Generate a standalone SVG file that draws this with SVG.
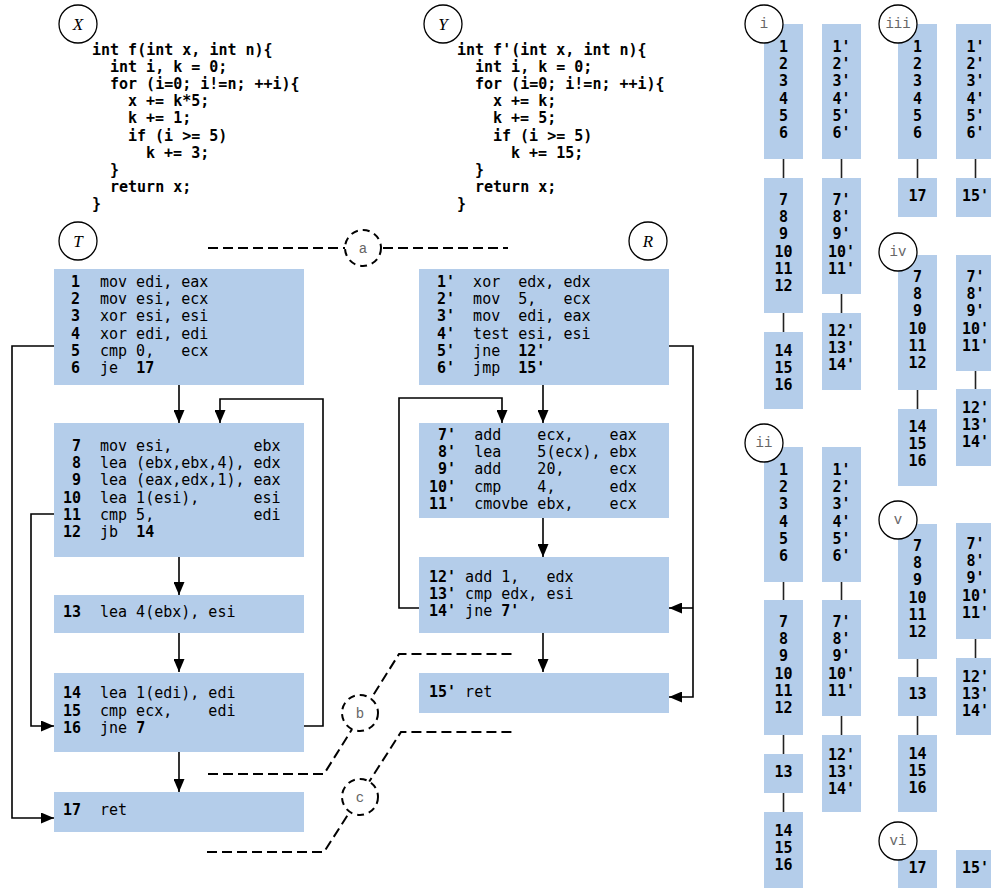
<svg xmlns="http://www.w3.org/2000/svg" width="991" height="888" viewBox="0 0 991 888">
<style>
  .bg { fill: #ffffff; }
  .blk { fill: #b4cdea; }
  .code { font-family: "DejaVu Sans Mono", "Liberation Mono", monospace; font-size: 15px; font-weight: bold; fill: #000; }
  .asm { font-family: "DejaVu Sans Mono", "Liberation Mono", monospace; font-size: 15px; fill: #000; white-space: pre; }
  .b { font-weight: bold; }
  .num { font-family: "DejaVu Sans Mono", "Liberation Mono", monospace; font-size: 15px; font-weight: bold; fill: #000; text-anchor: middle; }
  .tag { fill: #fff; stroke: #000; stroke-width: 1.3; }
  .tagd { fill: #fff; stroke: #000; stroke-width: 2; stroke-dasharray: 7,5; }
  .big { font-family: "Liberation Serif", "DejaVu Serif", serif; font-style: italic; font-size: 17px; fill: #000; text-anchor: middle; }
  .small { font-family: "Liberation Mono", "DejaVu Sans Mono", monospace; font-size: 14px; fill: #666; text-anchor: middle; }
  .edge { fill: none; stroke: #000; stroke-width: 1.6; }
  .dash { fill: none; stroke: #000; stroke-width: 2; stroke-dasharray: 10,5; }
  .link { stroke: #222; stroke-width: 1.6; }
</style>
<defs>
  <marker id="ah" viewBox="0 0 13 11" refX="13" refY="5.5" markerWidth="13" markerHeight="11" markerUnits="userSpaceOnUse" orient="auto">
    <path d="M0,0 L13,5.5 L0,11 z" fill="#000"/>
  </marker>
</defs>
<rect class="bg" x="0" y="0" width="991" height="888"/>

<!-- source of f -->
<g id="srcX">
  <circle class="tag" cx="78" cy="24" r="19"/>
  <text class="big" x="78" cy="24" y="30">X</text>
  <text class="code">
    <tspan x="92" y="55">int f(int x, int n){</tspan>
    <tspan x="110" y="72.1">int i, k = 0;</tspan>
    <tspan x="110" y="89.2">for (i=0; i!=n; ++i){</tspan>
    <tspan x="128" y="106.3">x += k*5;</tspan>
    <tspan x="128" y="123.4">k += 1;</tspan>
    <tspan x="128" y="140.5">if (i &gt;= 5)</tspan>
    <tspan x="146" y="157.6">k += 3;</tspan>
    <tspan x="110" y="174.7">}</tspan>
    <tspan x="110" y="191.8">return x;</tspan>
    <tspan x="92" y="208.9">}</tspan>
  </text>
</g>

<!-- source of f' -->
<g id="srcY">
  <circle class="tag" cx="443" cy="24" r="19"/>
  <text class="big" x="443" y="30">Y</text>
  <text class="code">
    <tspan x="457" y="55">int f'(int x, int n){</tspan>
    <tspan x="475" y="72.1">int i, k = 0;</tspan>
    <tspan x="475" y="89.2">for (i=0; i!=n; ++i){</tspan>
    <tspan x="493" y="106.3">x += k;</tspan>
    <tspan x="493" y="123.4">k += 5;</tspan>
    <tspan x="493" y="140.5">if (i &gt;= 5)</tspan>
    <tspan x="511" y="157.6">k += 15;</tspan>
    <tspan x="475" y="174.7">}</tspan>
    <tspan x="475" y="191.8">return x;</tspan>
    <tspan x="457" y="208.9">}</tspan>
  </text>
</g>

<g id="labelT">
  <circle class="tag" cx="78" cy="241" r="19"/>
  <text class="big" x="78" y="247">T</text>
</g>
<g id="labelR">
  <circle class="tag" cx="648" cy="241" r="19"/>
  <text class="big" x="648" y="247">R</text>
</g>

<!-- control-flow edges -->
<g id="connectors">
  <path class="edge" d="M179,385 V423" marker-end="url(#ah)"/>
  <path class="edge" d="M304,726 H323 V399 H220 V423" marker-end="url(#ah)"/>
  <path class="edge" d="M54,346 H12 V818 H54" marker-end="url(#ah)"/>
  <path class="edge" d="M54,514 H31 V726 H54" marker-end="url(#ah)"/>
  <path class="edge" d="M179,557 V595" marker-end="url(#ah)"/>
  <path class="edge" d="M179,633 V672" marker-end="url(#ah)"/>
  <path class="edge" d="M179,752 V792" marker-end="url(#ah)"/>

  <path class="edge" d="M543,385 V423" marker-end="url(#ah)"/>
  <path class="edge" d="M419,608 H399 V398 H502 V423" marker-end="url(#ah)"/>
  <path class="edge" d="M669,346 H693 V697 H669" marker-end="url(#ah)"/>
  <path class="edge" d="M693,608 H669" marker-end="url(#ah)"/>
  <path class="edge" d="M543,518 V557" marker-end="url(#ah)"/>
  <path class="edge" d="M543,633 V672" marker-end="url(#ah)"/>
</g>

<!-- f blocks -->
<g id="T1">
  <rect class="blk" x="54" y="269" width="250" height="116"/>
  <text class="asm" xml:space="preserve"><tspan class="b" x="80" y="287" text-anchor="end">1</tspan><tspan x="100" y="287">mov edi, eax</tspan><tspan class="b" x="80" y="304.2" text-anchor="end">2</tspan><tspan x="100" y="304.2">mov esi, ecx</tspan><tspan class="b" x="80" y="321.4" text-anchor="end">3</tspan><tspan x="100" y="321.4">xor esi, esi</tspan><tspan class="b" x="80" y="338.6" text-anchor="end">4</tspan><tspan x="100" y="338.6">xor edi, edi</tspan><tspan class="b" x="80" y="355.8" text-anchor="end">5</tspan><tspan x="100" y="355.8">cmp 0,   ecx</tspan><tspan class="b" x="80" y="373" text-anchor="end">6</tspan><tspan x="100" y="373">je  </tspan><tspan class="b">17</tspan></text>
</g>
<g id="T2">
  <rect class="blk" x="54" y="423" width="250" height="134"/>
  <text class="asm" xml:space="preserve"><tspan class="b" x="81" y="451" text-anchor="end">7</tspan><tspan x="100" y="451">mov esi,         ebx</tspan><tspan class="b" x="81" y="468.2" text-anchor="end">8</tspan><tspan x="100" y="468.2">lea (ebx,ebx,4), edx</tspan><tspan class="b" x="81" y="485.4" text-anchor="end">9</tspan><tspan x="100" y="485.4">lea (eax,edx,1), eax</tspan><tspan class="b" x="81" y="502.6" text-anchor="end">10</tspan><tspan x="100" y="502.6">lea 1(esi),      esi</tspan><tspan class="b" x="81" y="519.8" text-anchor="end">11</tspan><tspan x="100" y="519.8">cmp 5,           edi</tspan><tspan class="b" x="81" y="537" text-anchor="end">12</tspan><tspan x="100" y="537">jb  </tspan><tspan class="b">14</tspan></text>
</g>
<g id="T3">
  <rect class="blk" x="54" y="595" width="250" height="38"/>
  <text class="asm" xml:space="preserve"><tspan class="b" x="81" y="617" text-anchor="end">13</tspan><tspan x="100" y="617">lea 4(ebx), esi</tspan></text>
</g>
<g id="T4">
  <rect class="blk" x="54" y="673" width="250" height="79"/>
  <text class="asm" xml:space="preserve"><tspan class="b" x="81" y="698" text-anchor="end">14</tspan><tspan x="100" y="698">lea 1(edi), edi</tspan><tspan class="b" x="81" y="715.5" text-anchor="end">15</tspan><tspan x="100" y="715.5">cmp ecx,    edi</tspan><tspan class="b" x="81" y="733" text-anchor="end">16</tspan><tspan x="100" y="733">jne </tspan><tspan class="b">7</tspan></text>
</g>
<g id="T5">
  <rect class="blk" x="54" y="792" width="250" height="40"/>
  <text class="asm" xml:space="preserve"><tspan class="b" x="81" y="815" text-anchor="end">17</tspan><tspan x="100" y="815">ret</tspan></text>
</g>

<!-- f' blocks -->
<g id="R1">
  <rect class="blk" x="419" y="269" width="250" height="116"/>
  <text class="asm" xml:space="preserve"><tspan class="b" x="437" y="287">1'</tspan><tspan>  xor  edx, edx</tspan><tspan class="b" x="437" y="304.2">2'</tspan><tspan>  mov  5,   ecx</tspan><tspan class="b" x="437" y="321.4">3'</tspan><tspan>  mov  edi, eax</tspan><tspan class="b" x="437" y="338.6">4'</tspan><tspan>  test esi, esi</tspan><tspan class="b" x="437" y="355.8">5'</tspan><tspan>  jne  </tspan><tspan class="b">12'</tspan><tspan class="b" x="437" y="373">6'</tspan><tspan>  jmp  </tspan><tspan class="b">15'</tspan></text>
</g>
<g id="R2">
  <rect class="blk" x="419" y="423" width="250" height="95"/>
  <text class="asm" xml:space="preserve"><tspan class="b" x="429" y="440"> 7'</tspan><tspan>  add    ecx,    eax</tspan><tspan class="b" x="429" y="457.2"> 8'</tspan><tspan>  lea    5(ecx), ebx</tspan><tspan class="b" x="429" y="474.4"> 9'</tspan><tspan>  add    20,     ecx</tspan><tspan class="b" x="429" y="491.6">10'</tspan><tspan>  cmp    4,      edx</tspan><tspan class="b" x="429" y="508.8">11'</tspan><tspan>  cmovbe ebx,    ecx</tspan></text>
</g>
<g id="R3">
  <rect class="blk" x="419" y="557" width="250" height="76"/>
  <text class="asm" xml:space="preserve"><tspan class="b" x="429" y="582">12'</tspan><tspan> add 1,   edx</tspan><tspan class="b" x="429" y="599.2">13'</tspan><tspan> cmp edx, esi</tspan><tspan class="b" x="429" y="616.4">14'</tspan><tspan> jne </tspan><tspan class="b">7'</tspan></text>
</g>
<g id="R4">
  <rect class="blk" x="419" y="673" width="250" height="40"/>
  <text class="asm" xml:space="preserve"><tspan class="b" x="429" y="697">15'</tspan><tspan> ret</tspan></text>
</g>

<!-- matching regions a, b, c -->
<g id="sepA">
  <path class="dash" d="M208,248 H345 M383,248 H508"/>
  <circle class="tagd" cx="363" cy="248" r="18"/>
  <text class="small" x="363" y="253">a</text>
</g>
<g id="sepB">
  <path class="dash" d="M208,774 H324 L399,654 H515"/>
  <circle class="tagd" cx="360" cy="713" r="18"/>
  <text class="small" x="360" y="718">b</text>
</g>
<g id="sepC">
  <path class="dash" d="M207,852 H324 L401,732 H515"/>
  <circle class="tagd" cx="360" cy="797" r="18"/>
  <text class="small" x="360" y="802">c</text>
</g>

<!-- block-pairing columns -->
<g id="colI">
  <line class="link" x1="783.5" y1="159" x2="783.5" y2="178"/>
  <line class="link" x1="783.5" y1="313" x2="783.5" y2="332"/>
  <line class="link" x1="841.5" y1="159" x2="841.5" y2="178"/>
  <line class="link" x1="841.5" y1="294" x2="841.5" y2="313"/>
  <rect class="blk" x="764" y="24" width="39" height="135"/>
  <rect class="blk" x="764" y="178" width="39" height="135"/>
  <rect class="blk" x="764" y="332" width="39" height="77"/>
  <rect class="blk" x="822" y="24" width="39" height="135"/>
  <rect class="blk" x="822" y="178" width="39" height="116"/>
  <rect class="blk" x="822" y="313" width="39" height="77"/>
  <text class="num"><tspan x="783.5" y="52">1</tspan><tspan x="783.5" dy="17.2">2</tspan><tspan x="783.5" dy="17.2">3</tspan><tspan x="783.5" dy="17.2">4</tspan><tspan x="783.5" dy="17.2">5</tspan><tspan x="783.5" dy="17.2">6</tspan></text>
  <text class="num"><tspan x="783.5" y="205">7</tspan><tspan x="783.5" dy="17.2">8</tspan><tspan x="783.5" dy="17.2">9</tspan><tspan x="783.5" dy="17.2">10</tspan><tspan x="783.5" dy="17.2">11</tspan><tspan x="783.5" dy="17.2">12</tspan></text>
  <text class="num"><tspan x="783.5" y="356">14</tspan><tspan x="783.5" dy="17.2">15</tspan><tspan x="783.5" dy="17.2">16</tspan></text>
  <text class="num"><tspan x="841.5" y="52">1'</tspan><tspan x="841.5" dy="17.2">2'</tspan><tspan x="841.5" dy="17.2">3'</tspan><tspan x="841.5" dy="17.2">4'</tspan><tspan x="841.5" dy="17.2">5'</tspan><tspan x="841.5" dy="17.2">6'</tspan></text>
  <text class="num"><tspan x="841.5" y="205">7'</tspan><tspan x="841.5" dy="17.2">8'</tspan><tspan x="841.5" dy="17.2">9'</tspan><tspan x="841.5" dy="17.2">10'</tspan><tspan x="841.5" dy="17.2">11'</tspan></text>
  <text class="num"><tspan x="841.5" y="336">12'</tspan><tspan x="841.5" dy="17.2">13'</tspan><tspan x="841.5" dy="17.2">14'</tspan></text>
  <circle class="tag" cx="764" cy="24" r="19"/>
  <text class="small" x="764" y="28">i</text>
</g>

<g id="colII">
  <line class="link" x1="783.5" y1="582" x2="783.5" y2="600"/>
  <line class="link" x1="783.5" y1="735" x2="783.5" y2="754"/>
  <line class="link" x1="783.5" y1="793" x2="783.5" y2="812"/>
  <line class="link" x1="841.5" y1="582" x2="841.5" y2="600"/>
  <line class="link" x1="841.5" y1="716" x2="841.5" y2="735"/>
  <rect class="blk" x="764" y="447" width="39" height="135"/>
  <rect class="blk" x="764" y="600" width="39" height="135"/>
  <rect class="blk" x="764" y="754" width="39" height="39"/>
  <rect class="blk" x="764" y="812" width="39" height="77"/>
  <rect class="blk" x="822" y="447" width="39" height="135"/>
  <rect class="blk" x="822" y="600" width="39" height="116"/>
  <rect class="blk" x="822" y="735" width="39" height="77"/>
  <text class="num"><tspan x="783.5" y="475">1</tspan><tspan x="783.5" dy="17.2">2</tspan><tspan x="783.5" dy="17.2">3</tspan><tspan x="783.5" dy="17.2">4</tspan><tspan x="783.5" dy="17.2">5</tspan><tspan x="783.5" dy="17.2">6</tspan></text>
  <text class="num"><tspan x="783.5" y="627">7</tspan><tspan x="783.5" dy="17.2">8</tspan><tspan x="783.5" dy="17.2">9</tspan><tspan x="783.5" dy="17.2">10</tspan><tspan x="783.5" dy="17.2">11</tspan><tspan x="783.5" dy="17.2">12</tspan></text>
  <text class="num" x="783.5" y="777">13</text>
  <text class="num"><tspan x="783.5" y="836">14</tspan><tspan x="783.5" dy="17.2">15</tspan><tspan x="783.5" dy="17.2">16</tspan></text>
  <text class="num"><tspan x="841.5" y="475">1'</tspan><tspan x="841.5" dy="17.2">2'</tspan><tspan x="841.5" dy="17.2">3'</tspan><tspan x="841.5" dy="17.2">4'</tspan><tspan x="841.5" dy="17.2">5'</tspan><tspan x="841.5" dy="17.2">6'</tspan></text>
  <text class="num"><tspan x="841.5" y="627">7'</tspan><tspan x="841.5" dy="17.2">8'</tspan><tspan x="841.5" dy="17.2">9'</tspan><tspan x="841.5" dy="17.2">10'</tspan><tspan x="841.5" dy="17.2">11'</tspan></text>
  <text class="num"><tspan x="841.5" y="760">12'</tspan><tspan x="841.5" dy="17.2">13'</tspan><tspan x="841.5" dy="17.2">14'</tspan></text>
  <circle class="tag" cx="764" cy="443" r="19"/>
  <text class="small" x="764" y="447">ii</text>
</g>

<g id="colIII">
  <line class="link" x1="917.5" y1="159" x2="917.5" y2="178"/>
  <line class="link" x1="975.5" y1="159" x2="975.5" y2="178"/>
  <rect class="blk" x="898" y="24" width="39" height="135"/>
  <rect class="blk" x="898" y="178" width="39" height="39"/>
  <rect class="blk" x="956" y="24" width="39" height="135"/>
  <rect class="blk" x="956" y="178" width="39" height="39"/>
  <text class="num"><tspan x="917.5" y="52">1</tspan><tspan x="917.5" dy="17.2">2</tspan><tspan x="917.5" dy="17.2">3</tspan><tspan x="917.5" dy="17.2">4</tspan><tspan x="917.5" dy="17.2">5</tspan><tspan x="917.5" dy="17.2">6</tspan></text>
  <text class="num" x="917.5" y="201">17</text>
  <text class="num"><tspan x="975.5" y="52">1'</tspan><tspan x="975.5" dy="17.2">2'</tspan><tspan x="975.5" dy="17.2">3'</tspan><tspan x="975.5" dy="17.2">4'</tspan><tspan x="975.5" dy="17.2">5'</tspan><tspan x="975.5" dy="17.2">6'</tspan></text>
  <text class="num" x="975.5" y="201">15'</text>
  <circle class="tag" cx="898" cy="24" r="19"/>
  <text class="small" x="898" y="28">iii</text>
</g>

<g id="colIV">
  <line class="link" x1="917.5" y1="390" x2="917.5" y2="409"/>
  <line class="link" x1="975.5" y1="371" x2="975.5" y2="389"/>
  <rect class="blk" x="898" y="255" width="39" height="135"/>
  <rect class="blk" x="898" y="409" width="39" height="77"/>
  <rect class="blk" x="956" y="255" width="39" height="116"/>
  <rect class="blk" x="956" y="389" width="39" height="77"/>
  <text class="num"><tspan x="917.5" y="282">7</tspan><tspan x="917.5" dy="17.2">8</tspan><tspan x="917.5" dy="17.2">9</tspan><tspan x="917.5" dy="17.2">10</tspan><tspan x="917.5" dy="17.2">11</tspan><tspan x="917.5" dy="17.2">12</tspan></text>
  <text class="num"><tspan x="917.5" y="432">14</tspan><tspan x="917.5" dy="17.2">15</tspan><tspan x="917.5" dy="17.2">16</tspan></text>
  <text class="num"><tspan x="975.5" y="282">7'</tspan><tspan x="975.5" dy="17.2">8'</tspan><tspan x="975.5" dy="17.2">9'</tspan><tspan x="975.5" dy="17.2">10'</tspan><tspan x="975.5" dy="17.2">11'</tspan></text>
  <text class="num"><tspan x="975.5" y="413">12'</tspan><tspan x="975.5" dy="17.2">13'</tspan><tspan x="975.5" dy="17.2">14'</tspan></text>
  <circle class="tag" cx="898" cy="252" r="19"/>
  <text class="small" x="898" y="256">iv</text>
</g>

<g id="colV">
  <line class="link" x1="917.5" y1="659" x2="917.5" y2="677"/>
  <line class="link" x1="917.5" y1="716" x2="917.5" y2="735"/>
  <line class="link" x1="975.5" y1="639" x2="975.5" y2="658"/>
  <rect class="blk" x="898" y="524" width="39" height="135"/>
  <rect class="blk" x="898" y="677" width="39" height="39"/>
  <rect class="blk" x="898" y="735" width="39" height="77"/>
  <rect class="blk" x="956" y="523" width="39" height="116"/>
  <rect class="blk" x="956" y="658" width="39" height="77"/>
  <text class="num"><tspan x="917.5" y="551">7</tspan><tspan x="917.5" dy="17.2">8</tspan><tspan x="917.5" dy="17.2">9</tspan><tspan x="917.5" dy="17.2">10</tspan><tspan x="917.5" dy="17.2">11</tspan><tspan x="917.5" dy="17.2">12</tspan></text>
  <text class="num" x="917.5" y="699">13</text>
  <text class="num"><tspan x="917.5" y="759">14</tspan><tspan x="917.5" dy="17.2">15</tspan><tspan x="917.5" dy="17.2">16</tspan></text>
  <text class="num"><tspan x="975.5" y="549">7'</tspan><tspan x="975.5" dy="17.2">8'</tspan><tspan x="975.5" dy="17.2">9'</tspan><tspan x="975.5" dy="17.2">10'</tspan><tspan x="975.5" dy="17.2">11'</tspan></text>
  <text class="num"><tspan x="975.5" y="682">12'</tspan><tspan x="975.5" dy="17.2">13'</tspan><tspan x="975.5" dy="17.2">14'</tspan></text>
  <circle class="tag" cx="898" cy="520" r="19"/>
  <text class="small" x="898" y="524">v</text>
</g>

<g id="colVI">
  <rect class="blk" x="898" y="850" width="39" height="39"/>
  <rect class="blk" x="956" y="850" width="39" height="39"/>
  <text class="num" x="917.5" y="873">17</text>
  <text class="num" x="975.5" y="873">15'</text>
  <circle class="tag" cx="898" cy="841" r="19"/>
  <text class="small" x="898" y="845">vi</text>
</g>
</svg>
